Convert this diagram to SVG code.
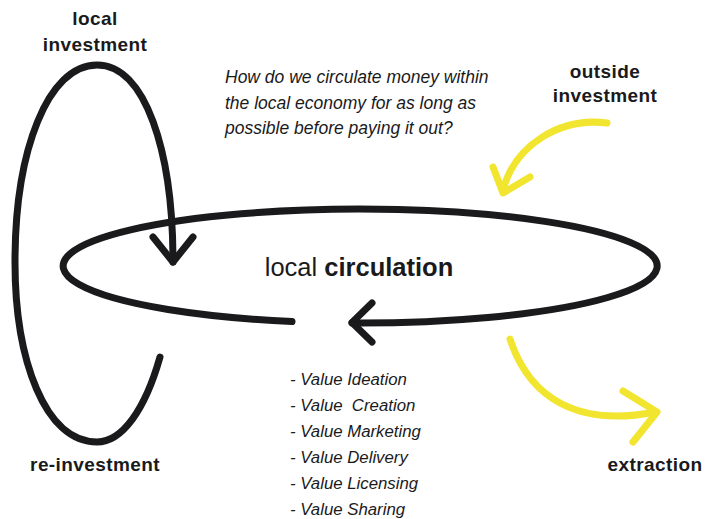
<svg xmlns="http://www.w3.org/2000/svg" width="705" height="519" viewBox="0 0 705 519">
<style>
.blk{fill:none;stroke:#1a1a1c;stroke-width:7;stroke-linecap:round;stroke-linejoin:round}
.yel{fill:none;stroke:#f2e52f;stroke-width:7;stroke-linecap:round;stroke-linejoin:round}
.lbl{font-family:"Liberation Sans",Arial,sans-serif;font-weight:bold;font-size:19px;fill:#1a1a1c;text-anchor:middle;letter-spacing:0.4px}
.it{font-family:"Liberation Sans",Arial,sans-serif;font-style:italic;font-size:17.5px;fill:#1a1a1c}
.li{font-family:"Liberation Sans",Arial,sans-serif;font-style:italic;font-size:16.8px;fill:#1a1a1c}
</style>
<rect width="705" height="519" fill="#ffffff"/>
<g id="connectors">
  <g id="local-circulation-loop">
    <path class="blk" d="M 292 321.5 A 297 57 0 1 1 352 323"/>
    <path class="blk" d="M 372 303 L 352 322.5 L 372 342"/>
  </g>
  <g id="reinvestment-loop">
    <path class="blk" d="M 160 357 C 145 410 122 442 97 442 C 45 442 15 360 15 262 C 15 150 48 65 97 65 C 145 65 173 150 173 262"/>
    <path class="blk" d="M 153 237 L 173 262 L 193 237"/>
  </g>
  <g id="outside-arrow">
    <path class="yel" d="M 607 123 C 560 117 515 145 503 190"/>
    <path class="yel" d="M 493 167 L 503 193 L 530 177"/>
  </g>
  <g id="extraction-arrow">
    <path class="yel" d="M 510 339 C 530 400 580 427 655 412"/>
    <path class="yel" d="M 623 391 L 657 412 L 633 442"/>
  </g>
</g>
<g id="node-local-investment">
  <text class="lbl" x="95" y="25">local</text>
  <text class="lbl" x="95" y="51">investment</text>
</g>
<g id="node-outside-investment">
  <text class="lbl" x="605" y="78">outside</text>
  <text class="lbl" x="605" y="102">investment</text>
</g>
<g id="node-reinvestment">
  <text class="lbl" x="95" y="471">re-investment</text>
</g>
<g id="node-extraction">
  <text class="lbl" x="655" y="471">extraction</text>
</g>
<g id="node-question">
  <text class="it" x="225" y="83">How do we circulate money within</text>
  <text class="it" x="225" y="109">the local economy for as long as</text>
  <text class="it" x="225" y="134">possible before paying it out?</text>
</g>
<g id="node-local-circulation">
  <text x="359" y="276" text-anchor="middle" font-family="'Liberation Sans',Arial,sans-serif" font-size="25.5" fill="#1a1a1c"><tspan font-weight="300">local </tspan><tspan font-weight="bold">circulation</tspan></text>
</g>
<g id="node-value-list">
  <text class="li" x="290" y="385">- Value Ideation</text>
  <text class="li" x="290" y="411" xml:space="preserve">- Value  Creation</text>
  <text class="li" x="290" y="437">- Value Marketing</text>
  <text class="li" x="290" y="463">- Value Delivery</text>
  <text class="li" x="290" y="489">- Value Licensing</text>
  <text class="li" x="290" y="515">- Value Sharing</text>
</g>
</svg>
